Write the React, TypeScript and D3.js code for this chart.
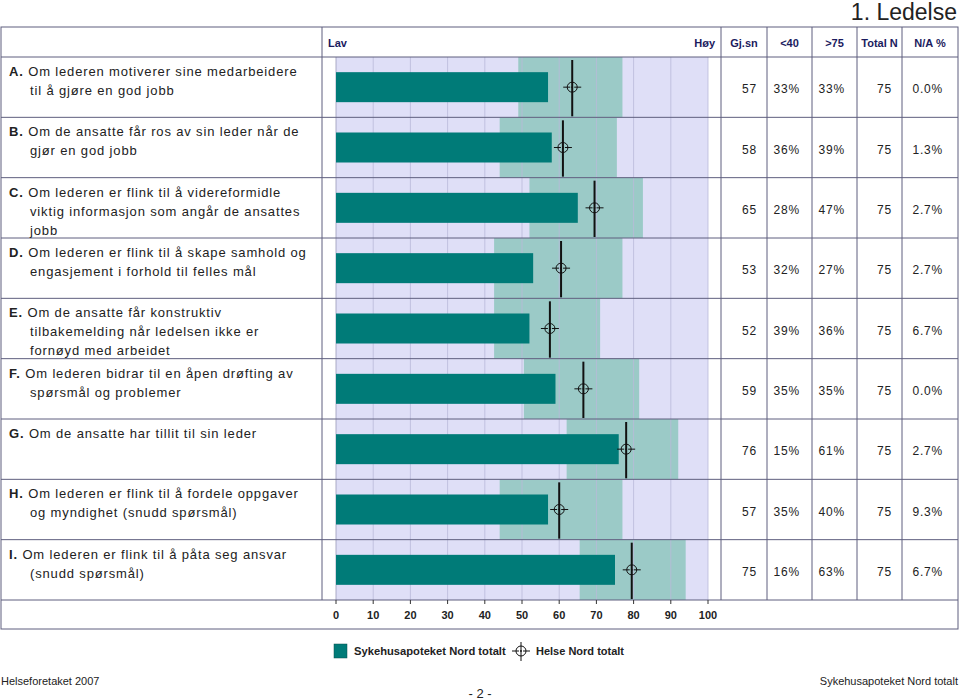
import React from 'react';
import * as d3 from 'd3';

const letters = ['A.', 'B.', 'C.', 'D.', 'E.', 'F.', 'G.', 'H.', 'I.'];
const questionLines: string[][] = [
  ['Om lederen motiverer sine medarbeidere', 'til å gjøre en god jobb'],
  ['Om de ansatte får ros av sin leder når de', 'gjør en god jobb'],
  ['Om lederen er flink til å videreformidle', 'viktig informasjon som angår de ansattes', 'jobb'],
  ['Om lederen er flink til å skape samhold og', 'engasjement i forhold til felles mål'],
  ['Om de ansatte får konstruktiv', 'tilbakemelding når ledelsen ikke er', 'fornøyd med arbeidet'],
  ['Om lederen bidrar til en åpen drøfting av', 'spørsmål og problemer'],
  ['Om de ansatte har tillit til sin leder'],
  ['Om lederen er flink til å fordele oppgaver', 'og myndighet (snudd spørsmål)'],
  ['Om lederen er flink til å påta seg ansvar', '(snudd spørsmål)'],
];
const gjsn = [57, 58, 65, 53, 52, 59, 76, 57, 75];
const bandLow = [49, 44, 52, 42.5, 42.5, 50.5, 62, 44, 65.5];
const bandHigh = [77, 75.5, 82.5, 77, 71, 81.5, 92, 77, 94];
const helseNord = [63.5, 61, 69.5, 60.5, 57.5, 66.5, 78, 60, 79.5];
const under40 = ['33%', '36%', '28%', '32%', '39%', '35%', '15%', '35%', '16%'];
const over75 = ['33%', '39%', '47%', '27%', '36%', '35%', '61%', '40%', '63%'];
const totalN = ['75', '75', '75', '75', '75', '75', '75', '75', '75'];
const naPct = ['0.0%', '1.3%', '2.7%', '2.7%', '6.7%', '0.0%', '2.7%', '9.3%', '6.7%'];
const headers = ['Gj.sn', '<40', '>75', 'Total N', 'N/A %'];
const xTicks = [0, 10, 20, 30, 40, 50, 60, 70, 80, 90, 100];
const legendItems = ['Sykehusapoteket Nord totalt', 'Helse Nord totalt'];

const FONT = '"Liberation Sans", Arial, Helvetica, sans-serif';
const LINE = '#5e5e7e';
const LAV = '#dfdff7';
const GRID = '#b9b9d9';
const BAND = '#9bcac7';
const BAR = '#007b78';
const NAVY = '#1b1b5e';
const TXT = '#222';

const tableTop = 27;
const headerBottom = 57;
const plotBottom = 600;
const tableBottom = 629;
const leftX = 1;
const rightX = 958;
const labelColX = 322;
const colEdges = [721, 767, 812, 857, 902, 958];

function Crosshair({ cx, cy, r = 5 }: { cx: number; cy: number; r?: number }) {
  return (
    <g>
      <circle cx={cx} cy={cy} r={r} fill="none" stroke="#111" strokeWidth={1} />
      <line x1={cx - r - 4} x2={cx - 2} y1={cy} y2={cy} stroke="#111" strokeWidth={1} />
      <line x1={cx + 2} x2={cx + r + 4} y1={cy} y2={cy} stroke="#111" strokeWidth={1} />
      <circle cx={cx} cy={cy} r={0.9} fill="#111" />
    </g>
  );
}

export default function App() {
  const x = d3.scaleLinear().domain([0, 100]).range([336, 708]);
  const y = d3
    .scaleBand<number>()
    .domain(d3.range(letters.length))
    .range([headerBottom, plotBottom])
    .paddingInner(0)
    .paddingOuter(0);
  const rowH = y.bandwidth();
  const barH = 30;

  return (
    <svg
      width={960}
      height={700}
      style={{ position: 'absolute', left: 0, top: 0, background: '#fff' }}
      fontFamily={FONT}
    >
      {/* Title */}
      <text x={957} y={20} textAnchor="end" fontSize={23} fill={TXT}>
        1. Ledelse
      </text>

      {/* Plot background */}
      <rect x={x(0)} y={headerBottom} width={x(100) - x(0)} height={plotBottom - headerBottom} fill={LAV} />

      {/* Bands */}
      {letters.map((_, i) => (
        <rect
          key={'band' + i}
          x={x(bandLow[i])}
          y={y(i)!}
          width={x(bandHigh[i]) - x(bandLow[i])}
          height={rowH}
          fill={BAND}
        />
      ))}

      {/* Vertical gridlines */}
      {xTicks.map((t) => (
        <line
          key={'g' + t}
          x1={x(t)}
          x2={x(t)}
          y1={headerBottom}
          y2={plotBottom}
          stroke={t === 0 ? '#9898b8' : GRID}
          strokeOpacity={0.8}
          strokeWidth={1}
        />
      ))}

      {/* Bars */}
      {letters.map((_, i) => (
        <rect
          key={'bar' + i}
          x={x(0)}
          y={y(i)! + rowH / 2 - barH / 2}
          width={x(gjsn[i]) - x(0)}
          height={barH}
          fill={BAR}
        />
      ))}

      {/* Helse Nord markers */}
      {letters.map((_, i) => {
        const cx = x(helseNord[i]);
        const cy = y(i)! + rowH / 2;
        return (
          <g key={'m' + i}>
            <line x1={cx} x2={cx} y1={y(i)! + 3} y2={y(i)! + rowH - 1} stroke="#111" strokeWidth={2} />
            <Crosshair cx={cx} cy={cy} />
          </g>
        );
      })}

      {/* Row lines */}
      {letters.map((_, i) =>
        i === 0 ? null : (
          <line key={'rl' + i} x1={leftX} x2={rightX} y1={y(i)!} y2={y(i)!} stroke={LINE} strokeWidth={1} />
        )
      )}
      <line x1={leftX} x2={rightX} y1={headerBottom} y2={headerBottom} stroke={LINE} strokeWidth={1} />
      <line x1={leftX} x2={rightX} y1={plotBottom} y2={plotBottom} stroke={LINE} strokeWidth={1} />

      {/* Outer border */}
      <rect x={leftX} y={tableTop} width={rightX - leftX} height={tableBottom - tableTop} fill="none" stroke={LINE} strokeWidth={1} />

      {/* Column dividers */}
      <line x1={labelColX} x2={labelColX} y1={tableTop} y2={plotBottom} stroke={LINE} />
      {colEdges.slice(0, 5).map((cxe) => (
        <line key={'cd' + cxe} x1={cxe} x2={cxe} y1={tableTop} y2={plotBottom} stroke={LINE} />
      ))}

      {/* Header */}
      <text x={328} y={47} fontSize={11} fontWeight="bold" fill={NAVY}>Lav</text>
      <text x={715} y={47} fontSize={11} fontWeight="bold" fill={NAVY} textAnchor="end">Høy</text>
      {headers.map((h, k) => (
        <text
          key={'h' + k}
          x={(colEdges[k] + colEdges[k + 1]) / 2}
          y={47}
          fontSize={11}
          fontWeight="bold"
          fill={NAVY}
          textAnchor="middle"
        >
          {h}
        </text>
      ))}

      {/* Labels */}
      {letters.map((l, i) => {
        const top = y(i)!;
        return (
          <g key={'lab' + i}>
            {questionLines[i].map((ln, j) => (
              <text key={j} x={j === 0 ? 9 : 30} y={top + 19 + j * 19} fontSize={13} fill={TXT} letterSpacing={0.85}>
                {j === 0 ? (
                  <>
                    <tspan fontWeight="bold">{l}</tspan>
                    <tspan> {ln}</tspan>
                  </>
                ) : (
                  ln
                )}
              </text>
            ))}
          </g>
        );
      })}

      {/* Values */}
      {letters.map((_, i) => {
        const cy = y(i)! + rowH / 2 + 6;
        const vals = [String(gjsn[i]), under40[i], over75[i], totalN[i], naPct[i]];
        const rightPad = [10, 12, 12, 10, 15];
        return (
          <g key={'v' + i}>
            {vals.map((v, k) => (
              <text
                key={k}
                x={colEdges[k + 1] - rightPad[k]}
                y={cy}
                fontSize={12}
                fill={TXT}
                textAnchor="end"
                letterSpacing={0.8}
              >
                {v}
              </text>
            ))}
          </g>
        );
      })}

      {/* X axis */}
      {xTicks.map((t) => (
        <g key={'t' + t}>
          <line x1={x(t)} x2={x(t)} y1={plotBottom} y2={plotBottom + 4} stroke="#333" />
          <text x={x(t)} y={619} fontSize={11} fontWeight="bold" fill={TXT} textAnchor="middle">
            {t}
          </text>
        </g>
      ))}

      {/* Legend */}
      <rect x={334} y={644} width={13} height={14} fill={BAR} stroke="#0a4f4d" strokeWidth={0.5} />
      <text x={354} y={655} fontSize={11.2} fontWeight="bold" fill={TXT}>{legendItems[0]}</text>
      <line x1={521} x2={521} y1={642} y2={661} stroke="#111" strokeWidth={1} />
      <Crosshair cx={521} cy={651} />
      <text x={536} y={655} fontSize={11} fontWeight="bold" fill={TXT}>{legendItems[1]}</text>

      {/* Footer */}
      <text x={1} y={685} fontSize={11} fill={TXT}>Helseforetaket 2007</text>
      <text x={958} y={685} fontSize={11} fill={TXT} textAnchor="end">Sykehusapoteket Nord totalt</text>
      <text x={480} y={698} fontSize={13} fill={TXT} textAnchor="middle">- 2 -</text>
    </svg>
  );
}
